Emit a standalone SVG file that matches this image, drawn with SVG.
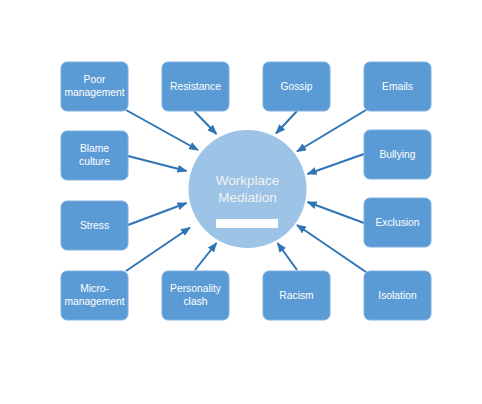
<svg xmlns="http://www.w3.org/2000/svg" width="482" height="404" viewBox="0 0 482 404">
<defs>
<style>
.box{fill:#5B9BD5;stroke:#7FB0DE;stroke-width:1}
.lbl{font-family:"Liberation Sans",Arial,sans-serif;font-size:10.3px;fill:#FFFFFF;text-anchor:middle}
.title{font-family:"Liberation Sans",Arial,sans-serif;font-size:13.5px;fill:#F2F2F2;text-anchor:middle}
.conn line{stroke:#2E75B6;stroke-width:2;marker-end:url(#ah)}
</style>
<marker id="ah" markerWidth="10" markerHeight="8" refX="9" refY="4" orient="auto" markerUnits="userSpaceOnUse">
<path d="M0,0 L10,4 L0,8 z" fill="#2E75B6"/>
</marker>
</defs>
<rect width="482" height="404" fill="#FFFFFF"/>
<g id="center">
<circle cx="247.5" cy="189" r="59" fill="#9DC3E6"/>
<text class="title" x="247.5" y="185">Workplace</text>
<text class="title" x="247.5" y="202">Mediation</text>
<rect x="216" y="219" width="62" height="9" fill="#FFFFFF"/>
</g>
<g class="conn" id="connectors">
<line x1="126" y1="110" x2="198" y2="150"/>
<line x1="194" y1="111" x2="216.5" y2="134"/>
<line x1="128" y1="156" x2="186.5" y2="171"/>
<line x1="297" y1="111" x2="276" y2="133.5"/>
<line x1="366" y1="110" x2="297" y2="151.5"/>
<line x1="364" y1="154" x2="307.5" y2="174"/>
<line x1="128" y1="225" x2="186.5" y2="203"/>
<line x1="126" y1="271" x2="190" y2="227.5"/>
<line x1="195" y1="270" x2="216.5" y2="243"/>
<line x1="364" y1="223" x2="307.5" y2="202"/>
<line x1="366" y1="272" x2="297" y2="225"/>
<line x1="297" y1="270" x2="277.5" y2="243"/>
</g>
<g id="poor"><rect class="box" x="61" y="62" width="67" height="49" rx="6"/><text class="lbl" x="94.5" y="83">Poor</text><text class="lbl" x="94.5" y="96">management</text></g>
<g id="resistance"><rect class="box" x="162" y="62" width="67" height="49" rx="6"/><text class="lbl" x="195.5" y="90">Resistance</text></g>
<g id="gossip"><rect class="box" x="263" y="62" width="67" height="49" rx="6"/><text class="lbl" x="296.5" y="90">Gossip</text></g>
<g id="emails"><rect class="box" x="364" y="62" width="67" height="49" rx="6"/><text class="lbl" x="397.5" y="90">Emails</text></g>
<g id="blame"><rect class="box" x="61" y="131" width="67" height="49" rx="6"/><text class="lbl" x="94.5" y="152">Blame</text><text class="lbl" x="94.5" y="165">culture</text></g>
<g id="bullying"><rect class="box" x="364" y="130" width="67" height="49" rx="6"/><text class="lbl" x="397.5" y="158">Bullying</text></g>
<g id="stress"><rect class="box" x="61" y="201" width="67" height="49" rx="6"/><text class="lbl" x="94.5" y="229">Stress</text></g>
<g id="exclusion"><rect class="box" x="364" y="198" width="67" height="49" rx="6"/><text class="lbl" x="397.5" y="226">Exclusion</text></g>
<g id="micro"><rect class="box" x="61" y="271" width="67" height="49" rx="6"/><text class="lbl" x="94.5" y="292">Micro-</text><text class="lbl" x="94.5" y="305">management</text></g>
<g id="personality"><rect class="box" x="162" y="271" width="67" height="49" rx="6"/><text class="lbl" x="195.5" y="292">Personality</text><text class="lbl" x="195.5" y="305">clash</text></g>
<g id="racism"><rect class="box" x="263" y="271" width="67" height="49" rx="6"/><text class="lbl" x="296.5" y="299">Racism</text></g>
<g id="isolation"><rect class="box" x="364" y="271" width="67" height="49" rx="6"/><text class="lbl" x="397.5" y="299">Isolation</text></g>
</svg>
